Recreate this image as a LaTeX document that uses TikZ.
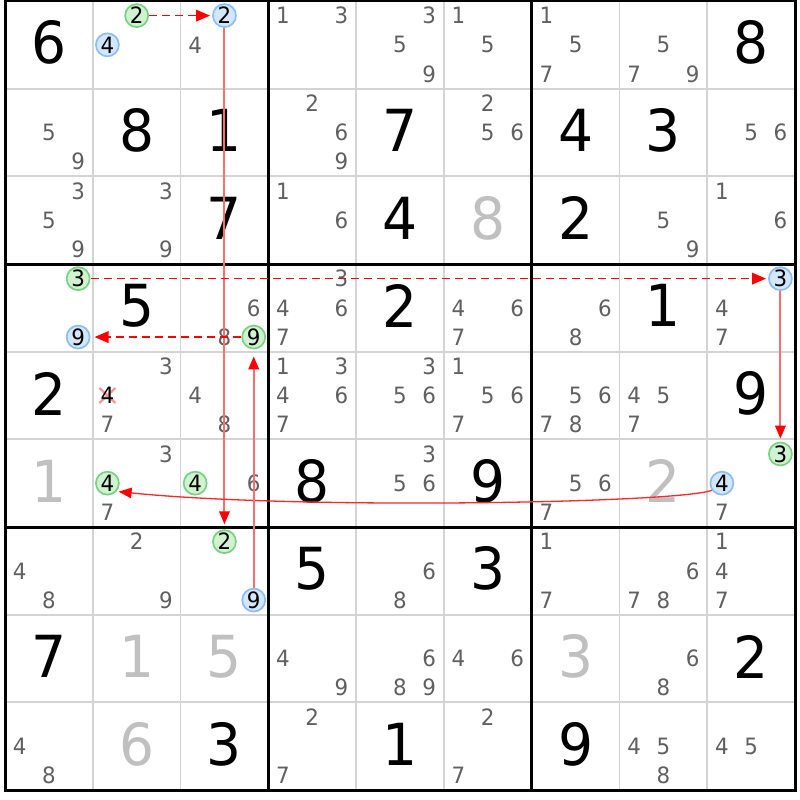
\documentclass[tikz,border=0pt]{standalone}
\usepackage{fontspec}
\usetikzlibrary{arrows.meta}
\newfontfamily\djf{DejaVu Sans}[FakeStretch=0.95]
\newcommand\candfont{\djf\fontsize{22.5}{22.5}\selectfont}
\newcommand\bigfont{\djf\fontsize{58}{58}\selectfont}
\definecolor{candgray}{RGB}{96,96,96}
\definecolor{givgray}{RGB}{192,192,192}
\definecolor{gridgray}{RGB}{212,212,212}
\definecolor{gfill}{RGB}{208,242,208}
\definecolor{gline}{RGB}{120,210,130}
\definecolor{bfill}{RGB}{210,230,252}
\definecolor{bline}{RGB}{140,190,245}
\definecolor{xpink}{RGB}{245,150,150}
\definecolor{linkred}{RGB}{250,110,110}
\tikzset{
  cand/.style={text=candgray, font=\candfont, inner sep=0pt},
  bigd/.style={text=black, font=\bigfont, inner sep=0pt},
  given/.style={text=givgray, font=\bigfont, inner sep=0pt},
  gcirc/.style={circle, draw=gline, fill=gfill, line width=1.7pt, minimum size=23pt, inner sep=0pt, font=\candfont, text=black},
  bcirc/.style={circle, draw=bline, fill=bfill, line width=1.7pt, minimum size=23pt, inner sep=0pt, font=\candfont, text=black},
  thingrid/.style={draw=gridgray, line width=1.8pt},
  thickgrid/.style={draw=black, line width=3pt},
  chainline/.style={draw=red, line width=1.7pt, dash pattern=on 8pt off 5pt, -{Triangle[length=14pt,width=11.5pt,color=red]}},
  linkline/.style={draw=linkred, line width=2pt, -{Triangle[length=13pt,width=10.5pt,color=red]}},
  curveline/.style={draw=red!85, line width=1.3pt, -{Triangle[length=13pt,width=10.5pt,color=red]}},
  xmark/.style={draw=xpink, line width=2.2pt},
}
\newcommand\cpos[3]{%
  \pgfmathsetmacro\cx{5+#2*87.78+(mod(#3-1,3)+0.5)*29.26}%
  \pgfmathsetmacro\cy{1+#1*87.67+(floor((#3-1)/3)+0.5)*29.22}}
\newcommand\cands[3]{\foreach \d in {#3}{\cpos{#1}{#2}{\d}\node[cand] (k#1#2\d) at (\cx,\cy) {\d};}}
\newcommand\bigdig[4]{%
  \pgfmathsetmacro\cx{5+#3*87.78+43.89}%
  \pgfmathsetmacro\cy{1+#2*87.67+43.83-2}%
  \node[#1] (d#2#3) at (\cx,\cy) {#4};}
\newcommand\circd[5]{\cpos{#3}{#4}{#5}\node[#2] (#1) at (\cx,\cy) {#5};}
\begin{document}
\begin{tikzpicture}[x=1pt,y=-1pt]
\useasboundingbox[fill=white] (0,0) rectangle (800,800);
% thin grid
\foreach \i in {1,2,4,5,7,8}{
  \draw[thingrid] ({5+\i*87.78},1) -- ({5+\i*87.78},790);
  \draw[thingrid] (5,{1+\i*87.67}) -- (795,{1+\i*87.67});
}
\foreach \i in {3,6}{
  \draw[thickgrid] ({5+\i*87.78},1) -- ({5+\i*87.78},790);
  \draw[thickgrid] (5,{1+\i*87.67}) -- (795,{1+\i*87.67});
}
\draw[thickgrid] (5,1) rectangle (795,790);
% solved digits (black)
\bigdig{bigd}{0}{0}{6}\bigdig{bigd}{0}{8}{8}
\bigdig{bigd}{1}{1}{8}\bigdig{bigd}{1}{2}{1}\bigdig{bigd}{1}{4}{7}\bigdig{bigd}{1}{6}{4}\bigdig{bigd}{1}{7}{3}
\bigdig{bigd}{2}{2}{7}\bigdig{bigd}{2}{4}{4}\bigdig{bigd}{2}{6}{2}
\bigdig{bigd}{3}{1}{5}\bigdig{bigd}{3}{4}{2}\bigdig{bigd}{3}{7}{1}
\bigdig{bigd}{4}{0}{2}\bigdig{bigd}{4}{8}{9}
\bigdig{bigd}{5}{3}{8}\bigdig{bigd}{5}{5}{9}
\bigdig{bigd}{6}{3}{5}\bigdig{bigd}{6}{5}{3}
\bigdig{bigd}{7}{0}{7}\bigdig{bigd}{7}{8}{2}
\bigdig{bigd}{8}{2}{3}\bigdig{bigd}{8}{4}{1}\bigdig{bigd}{8}{6}{9}
% grey digits
\bigdig{given}{2}{5}{8}\bigdig{given}{5}{0}{1}\bigdig{given}{5}{7}{2}
\bigdig{given}{7}{1}{1}\bigdig{given}{7}{2}{5}\bigdig{given}{7}{6}{3}\bigdig{given}{8}{1}{6}
% candidates
\cands{0}{2}{4}\cands{0}{3}{1,3}\cands{0}{4}{3,5,9}\cands{0}{5}{1,5}\cands{0}{6}{1,5,7}\cands{0}{7}{5,7,9}
\cands{1}{0}{5,9}\cands{1}{3}{2,6,9}\cands{1}{5}{2,5,6}\cands{1}{8}{5,6}
\cands{2}{0}{3,5,9}\cands{2}{1}{3,9}\cands{2}{3}{1,6}\cands{2}{7}{5,9}\cands{2}{8}{1,6}
\cands{3}{2}{6,8}\cands{3}{3}{3,4,6,7}\cands{3}{5}{4,6,7}\cands{3}{6}{6,8}\cands{3}{8}{4,7}
\cands{4}{1}{3,7}\cands{4}{2}{4,8}\cands{4}{3}{1,3,4,6,7}\cands{4}{4}{3,5,6}\cands{4}{5}{1,5,6,7}\cands{4}{6}{5,6,7,8}\cands{4}{7}{4,5,7}
\cands{5}{1}{3,7}\cands{5}{2}{6}\cands{5}{4}{3,5,6}\cands{5}{6}{5,6,7}\cands{5}{8}{7}
\cands{6}{0}{4,8}\cands{6}{1}{2,9}\cands{6}{4}{6,8}\cands{6}{6}{1,7}\cands{6}{7}{6,7,8}\cands{6}{8}{1,4,7}
\cands{7}{3}{4,9}\cands{7}{4}{6,8,9}\cands{7}{5}{4,6}\cands{7}{7}{6,8}
\cands{8}{0}{4,8}\cands{8}{3}{2,7}\cands{8}{5}{2,7}\cands{8}{7}{4,5,8}\cands{8}{8}{4,5}
% eliminated candidate
\cpos{4}{1}{4}
\coordinate (elimc) at (\cx,\cy);
\draw[xmark] ([shift={(-8,-7.5)}]elimc) -- ([shift={(8,7.5)}]elimc);
\draw[xmark] ([shift={(8,-7.5)}]elimc) -- ([shift={(-8,7.5)}]elimc);
\node[cand, text=black] (elim) at (elimc) {4};
% circled candidates
\circd{gA}{gcirc}{0}{1}{2}
\circd{bX}{bcirc}{0}{1}{4}
\circd{bA}{bcirc}{0}{2}{2}
\circd{gB}{gcirc}{6}{2}{2}
\circd{bB}{bcirc}{6}{2}{9}
\circd{gC}{gcirc}{3}{2}{9}
\circd{bC}{bcirc}{3}{0}{9}
\circd{gD}{gcirc}{3}{0}{3}
\circd{bD}{bcirc}{3}{8}{3}
\circd{gE}{gcirc}{5}{8}{3}
\circd{bE}{bcirc}{5}{8}{4}
\circd{gF}{gcirc}{5}{1}{4}
\circd{gG}{gcirc}{5}{2}{4}
% links
\draw[chainline, shorten >=2pt] (gA) -- (bA);
\draw[linkline, shorten >=5pt] (bA) -- (gB);
\draw[chainline, shorten >=2pt] (gD) -- (bD);
\draw[linkline, shorten >=3pt] (bD) -- (gE);
\draw[curveline, shorten >=2pt] (bE.215) .. controls (680,503) and (300,510) .. (gF.318);
\draw[linkline, shorten >=7pt] (bB) -- (gC);
\draw[chainline, shorten >=4pt] (gC) -- (bC);
\end{tikzpicture}
\end{document}
